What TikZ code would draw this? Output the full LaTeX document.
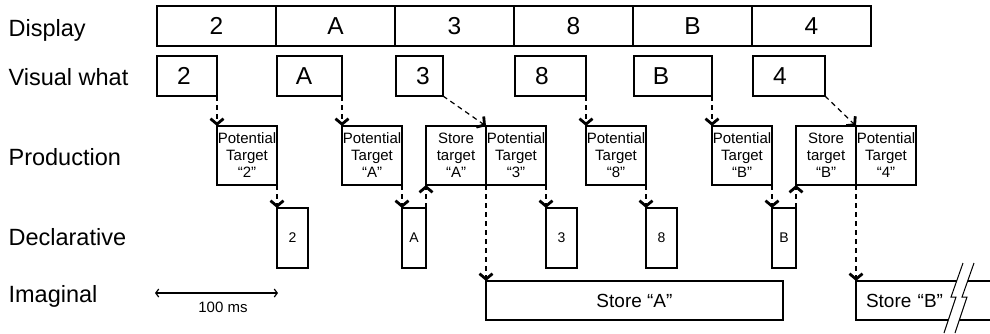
\documentclass[tikz,border=0pt]{standalone}
\usepackage{fontspec}
\setmainfont{Liberation Sans}
\usetikzlibrary{arrows.meta}

\tikzset{
  rowlabel/.style={anchor=base west, inner sep=0, font=\fontsize{23.5}{27}\selectfont},
  cell/.style={draw, anchor=north west, outer sep=0, inner sep=0, minimum height=40pt, font=\fontsize{24.5}{28}\selectfont},
  prodbox/.style={draw, anchor=north west, outer sep=0, inner sep=0, minimum width=60pt, minimum height=59pt, align=center, font=\fontsize{15}{17}\selectfont},
  declbox/.style={draw, anchor=north west, outer sep=0, inner sep=0, minimum height=60pt, font=\fontsize{14}{16}\selectfont},
  imagbox/.style={draw, anchor=north west, outer sep=0, inner sep=0, minimum height=39pt, font=\fontsize{19}{22}\selectfont},
  flow/.style={dash pattern=on 5pt off 4pt, line width=1.2pt, -{Straight Barb[length=5.5pt,width=13pt,line width=2.8pt]}},
  scalebar/.style={line width=1.2pt, {Straight Barb[length=3pt,width=8pt]}-{Straight Barb[length=3pt,width=8pt]}},
}

\begin{document}
\begin{tikzpicture}[x=1pt, y=-1pt, line width=1.2pt]
  \useasboundingbox (0,0) rectangle (990,333);

  % module names
  \node[rowlabel] (lDisp) at (8,36) {Display};
  \node[rowlabel] (lVis) at (8,85) {Visual what};
  \node[rowlabel] (lProd) at (8,165) {Production};
  \node[rowlabel] (lDecl) at (8,245) {Declarative};
  \node[rowlabel] (lImag) at (8,302) {Imaginal};

  % display strip
  \foreach \t [count=\i] in {2,A,3,8,B,4}
    \node[cell, minimum width=119pt] (d\i) at ({157+119*(\i-1)},6) {\t};

  % visual what buffer
  \foreach \n/\x/\w/\t in {1/157/60/2, 2/277/65/A, 3/396/47/3, 4/515/71/8, 5/634/78/B, 6/753/72/4}{
    \node[cell, minimum width=\w pt] (v\n) at (\x,56) {};
    \node[inner sep=0, font=\fontsize{24.5}{28}\selectfont] (vt\n) at ([xshift=27pt]v\n.west) {\t};
  }

  % productions
  \node[prodbox] (p1) at (217,126) {Potential\\Target\\“2”};
  \node[prodbox] (p2) at (342,126) {Potential\\Target\\“A”};
  \node[prodbox] (s3) at (426,126) {Store\\target\\“A”};
  \node[prodbox] (p3) at (s3.north east) {Potential\\Target\\“3”};
  \node[prodbox] (p4) at (586,126) {Potential\\Target\\“8”};
  \node[prodbox] (p5) at (712,126) {Potential\\Target\\“B”};
  \node[prodbox] (s6) at (796,126) {Store\\target\\“B”};
  \node[prodbox] (p6) at (s6.north east) {Potential\\Target\\“4”};

  % declarative retrievals
  \node[declbox, minimum width=31pt] (c1) at (p1.south east |- 0,208) {2};
  \node[declbox, minimum width=24pt] (c2) at (p2.south east |- 0,208) {A};
  \node[declbox, minimum width=31pt] (c3) at (p3.south east |- 0,208) {3};
  \node[declbox, minimum width=31pt] (c4) at (p4.south east |- 0,208) {8};
  \node[declbox, minimum width=24pt] (c5) at (p5.south east |- 0,208) {B};

  % imaginal buffer
  \node[imagbox, minimum width=297pt] (i1) at (s3.south east |- 0,281) {Store “A”};
  \node[imagbox, minimum width=150pt, text width=136pt, align=left, inner xsep=10pt] (i2) at (s6.south east |- 0,281) {Store “B”};

  % break in the last store
  \fill[white] (963,263) -- (951,297) -- (956,297) -- (944,333) -- (955,333)
    -- (967,297) -- (962,297) -- (974,263) -- cycle;
  \draw[line width=1pt] (963,263) -- (951,297) -- (956,297) -- (944,333);
  \draw[line width=1pt] (974,263) -- (962,297) -- (967,297) -- (955,333);

  % visual -> production
  \draw[flow] (v1.south east) -- (p1.north west);
  \draw[flow] (v2.south east) -- (p2.north west);
  \draw[flow] (v3.south east) -- (p3.north west);
  \draw[flow] (v4.south east) -- (p4.north west);
  \draw[flow] (v5.south east) -- (p5.north west);
  \draw[flow] (v6.south east) -- (p6.north west);

  % production -> declarative
  \draw[flow] (p1.south east) -- (c1.north west);
  \draw[flow] (p2.south east) -- (c2.north west);
  \draw[flow] (p3.south east) -- (c3.north west);
  \draw[flow] (p4.south east) -- (c4.north west);
  \draw[flow] (p5.south east) -- (c5.north west);

  % declarative -> store production
  \draw[flow] (c2.north east) -- (s3.south west);
  \draw[flow] (c5.north east) -- (s6.south west);

  % store -> imaginal
  \draw[flow] (s3.south east) -- (i1.north west);
  \draw[flow] (s6.south east) -- (i2.north west);

  % time scale
  \coordinate (sbL) at (155,293);
  \coordinate (sbR) at (278,293);
  \draw[scalebar] (sbL) -- (sbR);
  \node[inner sep=0, font=\fontsize{15}{17}\selectfont] (sbT) at (223,307) {100 ms};
\end{tikzpicture}
\end{document}
